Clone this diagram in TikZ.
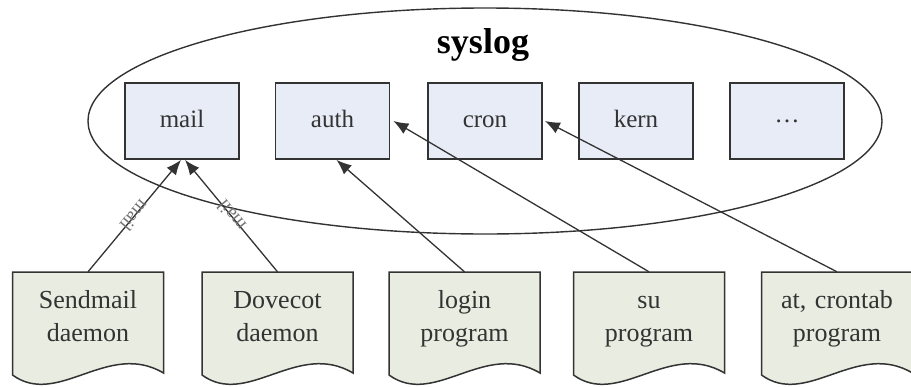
\documentclass[tikz,border=0pt]{standalone}
\usepackage{fontspec}
\setmainfont{Liberation Serif}
\usepackage{tikz}
\usetikzlibrary{arrows.meta}

\definecolor{boxfill}{HTML}{E8ECF6}
\definecolor{docfill}{HTML}{E9ECE0}
\definecolor{inkgray}{HTML}{333333}

\begin{document}
\begin{tikzpicture}[x=1pt,y=-1pt,
		facility/.style={draw=inkgray,line width=1.8pt,fill=boxfill,text=inkgray,
			minimum width=114,minimum height=76,text height=17,text depth=5,
			font=\fontsize{25}{30}\selectfont},
		source/.style={text=inkgray,text width=146,align=center,minimum height=88,
			font=\fontsize{26}{33}\selectfont},
		docline/.style={draw=inkgray,line width=1.5pt,fill=docfill},
		feed/.style={draw=inkgray,line width=1.3pt,-{Latex[length=15,width=12]}},
		chan/.style={text=gray!90!black,inner sep=0pt,font=\fontsize{19}{19}\selectfont}]
		\useasboundingbox (0,0) rectangle (911,386);
		
		% Syslog ellipse
		\draw[inkgray,line width=1.4pt] (485,121) ellipse [x radius=397,y radius=113];
		\node[font=\bfseries\fontsize{36}{40}\selectfont,text=black] (title) at (483,45) {syslog};
		
		% Facilities
		\node[facility] (mail) at (182,121) {mail};
		\node[facility] (auth) at (332.5,121) {auth};
		\node[facility] (cron) at (485,121) {cron};
		\node[facility] (kern) at (636,121) {kern};
		\node[facility] (more) at (787,121) {\raisebox{5pt}{\textellipsis}};
		
		% Document shapes (wavy bottom)
		\foreach \c in {88,277.5,464.5,649,837}
		\path[docline] (\c-75.5,272) -- (\c+75.5,272) -- (\c+75.5,373)
			.. controls (\c+20,340) and (\c-30,408) .. (\c-75.5,375) -- cycle;
		
		% Programs
		\node[source] (sendmail) at (88,318) {Sendmail\strut\\daemon\strut};
		\node[source] (dovecot) at (277.5,318) {Dovecot\strut\\daemon\strut};
		\node[source] (login) at (464.5,318) {login\strut\\program\strut};
		\node[source] (su) at (649,318) {su\strut\\program\strut};
		\node[source] (crontab) at (837,318) {at, crontab\strut\\program\strut};
		
		% Messages into syslog
		\draw[feed] ([yshift=2]sendmail.north) -- node[chan,pos=0.5,sloped,rotate=180]{mail} ([xshift=-1]mail.south);
		\draw[feed] ([yshift=2]dovecot.north) -- node[chan,pos=0.5,sloped,rotate=180]{mail} ([xshift=3]mail.south);
		\draw[feed] ([yshift=2]login.north) -- ([xshift=4]auth.south);
		\draw[feed] ([yshift=2]su.north) -- ([xshift=3]auth.east);
		\draw[feed] ([yshift=2]crontab.north) -- ([xshift=2]cron.east);
	\end{tikzpicture}
\end{document}
